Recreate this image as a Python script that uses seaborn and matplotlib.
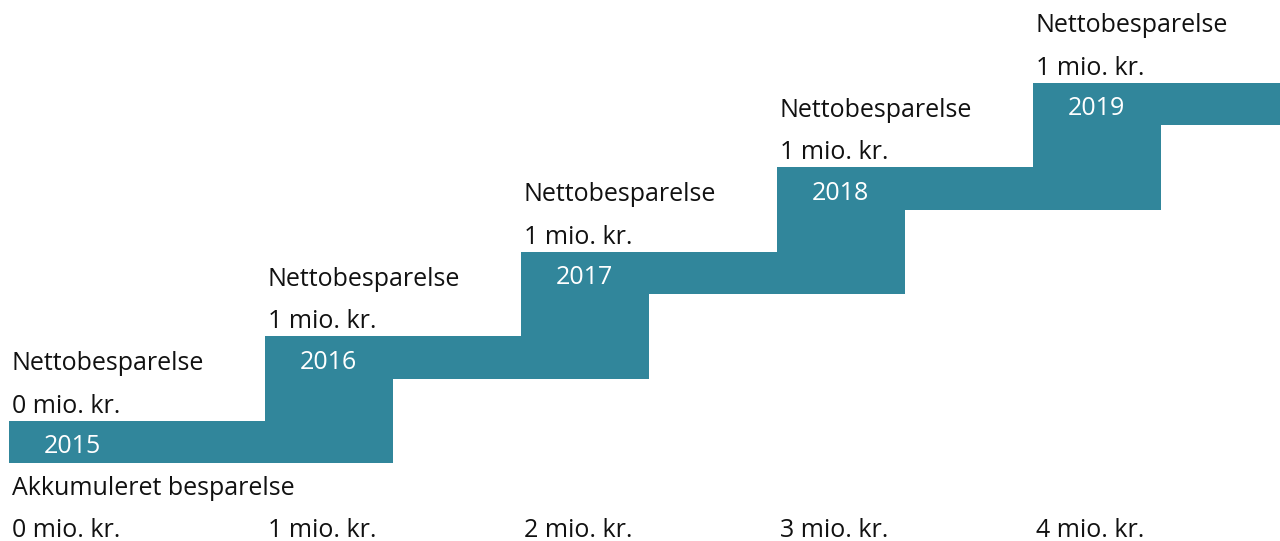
import matplotlib.pyplot as plt
import numpy as np
import seaborn as sns

years = ["2015", "2016", "2017", "2018", "2019"]
netto = [0, 1, 1, 1, 1]                     # nettobesparelse per år (mio. kr.)
akkumuleret = [0, 1, 2, 3, 4]               # akse-værdier (mio. kr.)
netto_labels = ["0 mio. kr.", "1 mio. kr.", "1 mio. kr.", "1 mio. kr.", "1 mio. kr."]
tick_labels = ["0 mio. kr.", "1 mio. kr.", "2 mio. kr.", "3 mio. kr.", "4 mio. kr."]

teal = "#31869B"
txt = "#111111"

sns.set_theme(style="white")
plt.rcParams["font.family"] = ["Open Sans", "DejaVu Sans"]

fig = plt.figure(figsize=(12.8, 5.41), dpi=100)
ax = fig.add_axes([0, 0, 1, 1])

starts = np.cumsum([0] + netto[1:])  # start of each step on the x axis
levels = np.arange(len(years))
bar_h = 0.5

# horizontal part of each step
ax.barh(levels, [1.5] * len(years), left=starts, height=bar_h,
        align="edge", color=teal, linewidth=0)
# vertical riser joining each step to the one below
ax.bar(starts[1:], [1.5] * (len(years) - 1), bottom=levels[1:] - 1,
       width=0.5, align="edge", color=teal, linewidth=0)

fs = 18
for s, k, yr, lab in zip(starts, levels, years, netto_labels):
    ax.text(s + 0.137, k + 0.19, yr, color="white", fontsize=fs,
            va="center", ha="left")
    ax.text(s + 0.01, k + 0.592, lab, color=txt, fontsize=fs,
            va="baseline", ha="left")
    ax.text(s + 0.01, k + 1.10, "Nettobesparelse", color=txt, fontsize=fs,
            va="baseline", ha="left")

ax.text(0.01, -0.379, "Akkumuleret besparelse", color=txt, fontsize=fs,
        va="baseline", ha="left")
for v, lab in zip(akkumuleret, tick_labels):
    ax.text(v + 0.01, -0.87, lab, color=txt, fontsize=fs,
            va="baseline", ha="left")

ax.set_xlim(-9 / 256, (1280 - 9) / 256)
ax.set_ylim(-(541 - 463) / 84.5, 463 / 84.5)
ax.axis("off")

plt.savefig("out.png", dpi=100)
